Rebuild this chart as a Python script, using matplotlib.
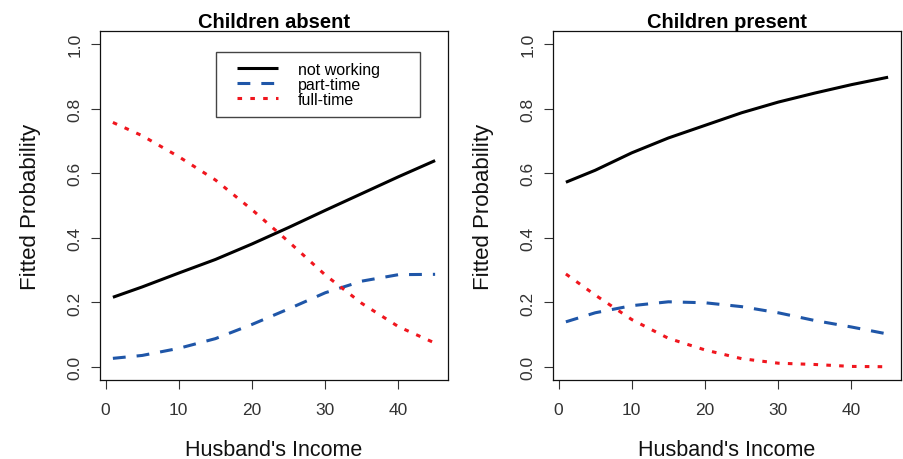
import matplotlib
matplotlib.use("Agg")
import matplotlib.pyplot as plt
from matplotlib.lines import Line2D
from matplotlib.legend_handler import HandlerLine2D

plt.rcParams['font.family'] = ['Liberation Sans', 'DejaVu Sans']

# husband's income grid
income = [1, 5, 10, 15, 20, 25, 30, 35, 40, 45]

# children absent
absent_not = [0.216, 0.248, 0.291, 0.333, 0.381, 0.432, 0.485, 0.537, 0.589, 0.639]
absent_part = [0.027, 0.036, 0.058, 0.088, 0.132, 0.180, 0.230, 0.266, 0.286, 0.287]
absent_full = [0.757, 0.716, 0.651, 0.579, 0.487, 0.388, 0.285, 0.197, 0.125, 0.074]

# children present
present_not = [0.572, 0.609, 0.663, 0.709, 0.748, 0.787, 0.820, 0.848, 0.874, 0.897]
present_part = [0.140, 0.168, 0.190, 0.202, 0.199, 0.187, 0.168, 0.144, 0.124, 0.102]
present_full = [0.288, 0.223, 0.147, 0.089, 0.053, 0.026, 0.012, 0.008, 0.002, 0.001]

series_labels = ['not working', 'part-time', 'full-time']
xticks = [0, 10, 20, 30, 40]
yticks = [0.0, 0.2, 0.4, 0.6, 0.8, 1.0]

black = '#000000'
blue = '#1f56a8'
red = '#f0161e'
tick_col = '#333333'

fig = plt.figure(figsize=(9.04, 4.6), dpi=100)
ax1 = fig.add_axes([100 / 904, 79 / 460, 348 / 904, 349 / 460])
ax2 = fig.add_axes([553 / 904, 79 / 460, 348 / 904, 349 / 460])

panels = [
    (ax1, 'Children absent', absent_not, absent_part, absent_full),
    (ax2, 'Children present', present_not, present_part, present_full),
]

for ax, title, nw, pt, ft in panels:
    ax.plot(income, nw, color=black, lw=2.2, solid_capstyle='butt', label=series_labels[0])
    ax.plot(income, pt, color=blue, lw=2.2, dashes=(4.2, 3.6), dash_capstyle='butt',
            label=series_labels[1])
    ax.plot(income, ft, color=red, lw=2.2, dashes=(1.5, 2.7), dash_capstyle='butt',
            label=series_labels[2])

    ax.set_xlim(-0.76, 46.76)
    ax.set_ylim(-0.04, 1.04)
    ax.set_xticks(xticks)
    ax.set_yticks(yticks)
    ax.set_xticklabels([str(v) for v in xticks])
    ax.set_yticklabels(['%.1f' % v for v in yticks], rotation=90, va='center')
    ax.tick_params(axis='both', direction='out', length=6.5, width=0.8,
                   color=tick_col, labelcolor=tick_col, labelsize=12.5)
    ax.tick_params(axis='x', pad=9)
    ax.tick_params(axis='y', pad=6)
    for sp in ax.spines.values():
        sp.set_linewidth(0.9)
        sp.set_color('#111111')

    ax.set_title(title, fontsize=14.5, fontweight='bold', pad=2)
    ax.set_xlabel("Husband's Income", fontsize=15.5, color='#111111')
    ax.set_ylabel('Fitted Probability', fontsize=16, color='#111111')
    ax.xaxis.set_label_coords(0.5, -0.168)
    ax.yaxis.set_label_coords(-0.17, 0.5)

leg = ax1.legend(loc='upper left', bbox_to_anchor=(0.333, 0.762, 0.587, 0.178),
                 mode='expand', fontsize=11.5, frameon=True, fancybox=False,
                 borderpad=0.62, labelspacing=0.0, handlelength=3.3,
                 handletextpad=1.2, borderaxespad=0,
                 handler_map={Line2D: HandlerLine2D(xpad=0.68)})
leg.get_frame().set_edgecolor('#444444')
leg.get_frame().set_linewidth(1.0)
leg.get_frame().set_alpha(1)

fig.savefig('out.png', dpi=100)
